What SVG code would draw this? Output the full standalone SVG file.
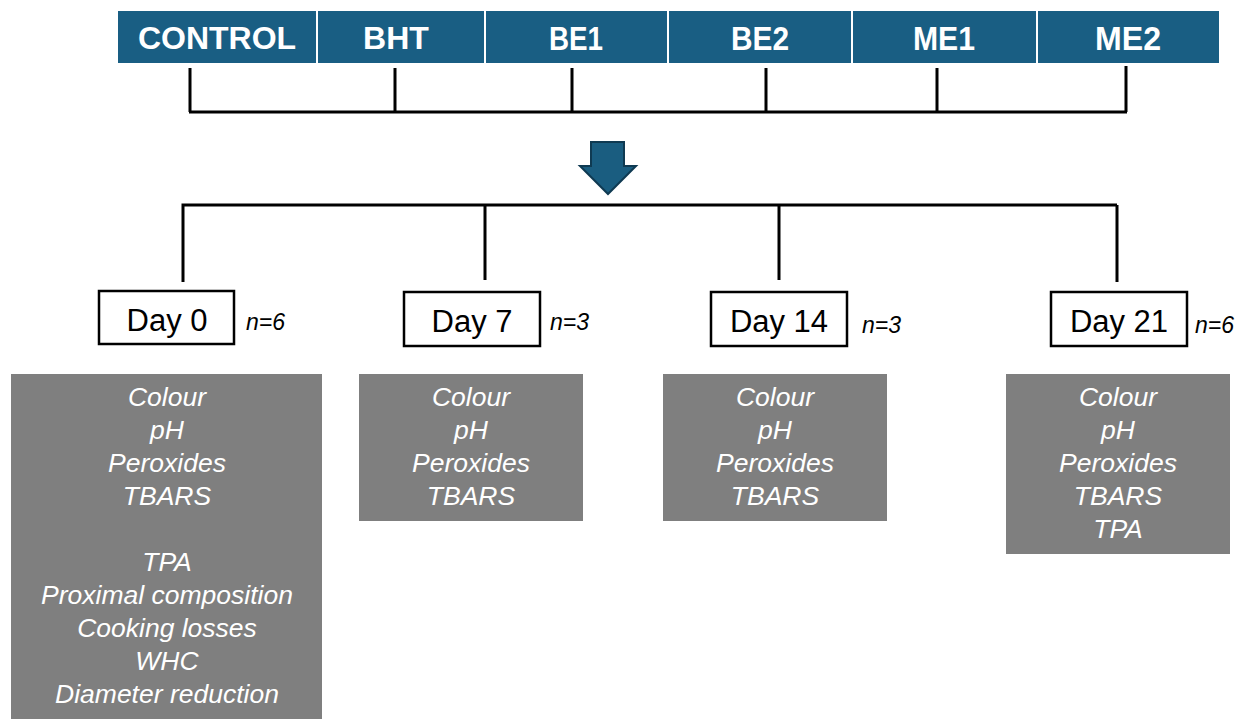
<svg xmlns="http://www.w3.org/2000/svg" width="1239" height="719" viewBox="0 0 1239 719">
<style>
.cell{fill:#195e83;stroke:#ffffff;stroke-width:2}
.hdr{font-family:"Liberation Sans",Arial,sans-serif;font-weight:bold;font-size:32px;fill:#ffffff;text-anchor:middle}
.hdr2{font-family:"Liberation Sans",Arial,sans-serif;font-weight:bold;font-size:34px;fill:#ffffff;text-anchor:middle}
.ln{stroke:#000;stroke-width:3;fill:none}
.day{fill:#fff;stroke:#000;stroke-width:2.5}
.dt{font-family:"Liberation Sans",Arial,sans-serif;font-size:31px;fill:#000;text-anchor:middle}
.n{font-family:"Liberation Sans",Arial,sans-serif;font-style:italic;font-size:23px;fill:#000}
.gb{fill:#7f7f7f}
.gt{font-family:"Liberation Sans",Arial,sans-serif;font-style:italic;font-size:26.5px;fill:#ffffff;text-anchor:middle}
</style>
<rect width="1239" height="719" fill="#fff"/>
<g id="header">
<g id="h-control"><rect class="cell" x="117" y="10" width="200" height="54"/><text class="hdr" x="217" y="49">CONTROL</text></g>
<g id="h-bht"><rect class="cell" x="317" y="10" width="168" height="54"/><text class="hdr" x="396" y="49">BHT</text></g>
<g id="h-be1"><rect class="cell" x="485" y="10" width="183" height="54"/><text class="hdr2" x="576" y="50" textLength="54" lengthAdjust="spacingAndGlyphs">BE1</text></g>
<g id="h-be2"><rect class="cell" x="668" y="10" width="184" height="54"/><text class="hdr2" x="760" y="50" textLength="58" lengthAdjust="spacingAndGlyphs">BE2</text></g>
<g id="h-me1"><rect class="cell" x="852" y="10" width="185" height="54"/><text class="hdr2" x="944" y="50" textLength="62" lengthAdjust="spacingAndGlyphs">ME1</text></g>
<g id="h-me2"><rect class="cell" x="1037" y="10" width="183" height="54"/><text class="hdr2" x="1128" y="50" textLength="66" lengthAdjust="spacingAndGlyphs">ME2</text></g>
</g>
<g id="connectors">
<path class="ln" d="M190 68 V112 M395 68 V112 M572 68 V112 M766 68 V112 M937 68 V112 M1126 66 V112 M189 112 H1127"/>
<path class="ln" d="M183 282 V205 H1117 M485 205 V280 M779 205 V280 M1117 205 V282"/>
<path id="arrow" d="M591 142 H624 V166 H636 L608 194 L580 166 H591 Z" fill="#1a5d80" stroke="#0f3a52" stroke-width="2"/>
</g>
<g id="day0"><rect class="day" x="99" y="291" width="135" height="53"/><text class="dt" x="167" y="331">Day 0</text><text class="n" x="246" y="330">n=6</text></g>
<g id="day7"><rect class="day" x="404" y="292" width="136" height="54"/><text class="dt" x="472" y="332">Day 7</text><text class="n" x="550" y="330">n=3</text></g>
<g id="day14"><rect class="day" x="711" y="292" width="136" height="54"/><text class="dt" x="779" y="332">Day 14</text><text class="n" x="862" y="333">n=3</text></g>
<g id="day21"><rect class="day" x="1051" y="292" width="136" height="54"/><text class="dt" x="1119" y="332">Day 21</text><text class="n" x="1195" y="333">n=6</text></g>
<g id="box0"><rect class="gb" x="11" y="374" width="311" height="345"/>
<text class="gt" x="167" y="406">Colour</text><text class="gt" x="167" y="439">pH</text><text class="gt" x="167" y="472">Peroxides</text><text class="gt" x="167" y="505">TBARS</text>
<text class="gt" x="167" y="571">TPA</text><text class="gt" x="167" y="604">Proximal composition</text><text class="gt" x="167" y="637">Cooking losses</text><text class="gt" x="167" y="670">WHC</text><text class="gt" x="167" y="703">Diameter reduction</text></g>
<g id="box7"><rect class="gb" x="359" y="374" width="224" height="147"/>
<text class="gt" x="471" y="406">Colour</text><text class="gt" x="471" y="439">pH</text><text class="gt" x="471" y="472">Peroxides</text><text class="gt" x="471" y="505">TBARS</text></g>
<g id="box14"><rect class="gb" x="663" y="374" width="224" height="147"/>
<text class="gt" x="775" y="406">Colour</text><text class="gt" x="775" y="439">pH</text><text class="gt" x="775" y="472">Peroxides</text><text class="gt" x="775" y="505">TBARS</text></g>
<g id="box21"><rect class="gb" x="1006" y="374" width="224" height="180"/>
<text class="gt" x="1118" y="406">Colour</text><text class="gt" x="1118" y="439">pH</text><text class="gt" x="1118" y="472">Peroxides</text><text class="gt" x="1118" y="505">TBARS</text><text class="gt" x="1118" y="538">TPA</text></g>
</svg>
